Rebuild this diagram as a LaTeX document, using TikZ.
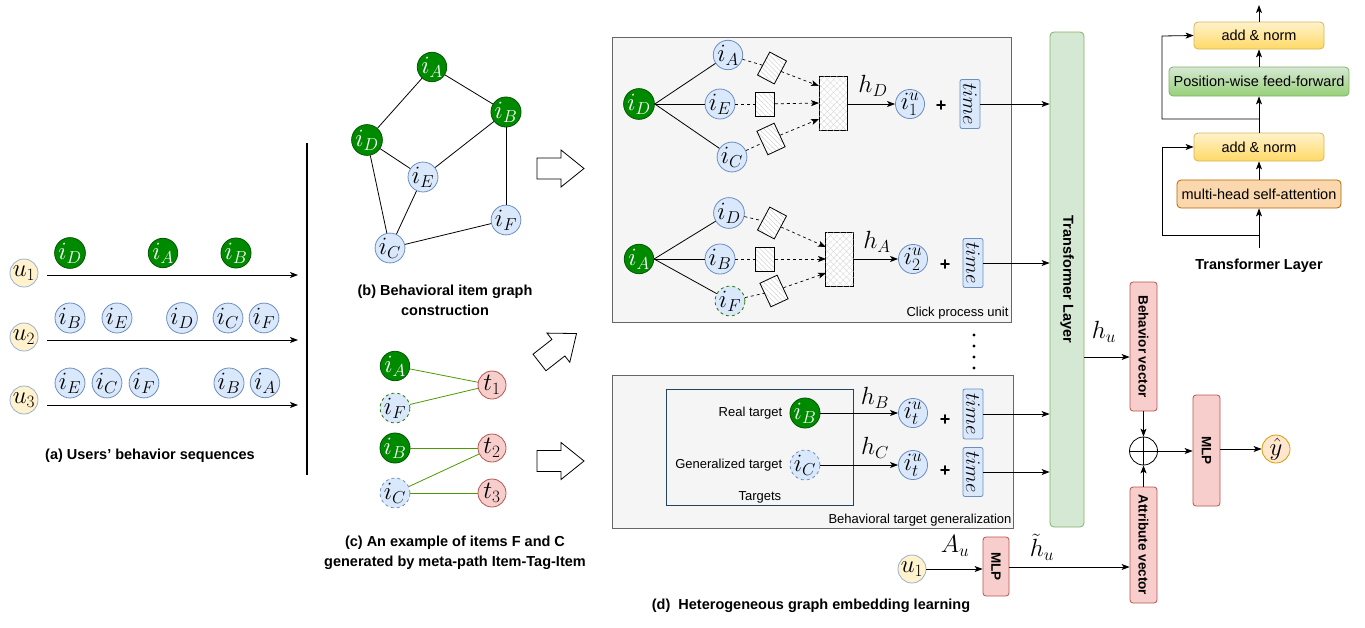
\documentclass[tikz,border=0pt]{standalone}
\usepackage{fontspec}
\setmainfont{Liberation Sans}
\usetikzlibrary{arrows.meta,patterns.meta,calc}
\definecolor{dgreen}{HTML}{008A00}
\definecolor{dgreenb}{HTML}{005700}
\definecolor{lblue}{HTML}{DAE8FC}
\definecolor{bblue}{HTML}{6C8EBF}
\definecolor{lred}{HTML}{F8CECC}
\definecolor{bred}{HTML}{B85450}
\definecolor{lyel}{HTML}{FFF2CC}
\definecolor{byel}{HTML}{D6B656}
\definecolor{dyel}{HTML}{FFD966}
\definecolor{lgrn}{HTML}{D5E8D4}
\definecolor{bgrn}{HTML}{82B366}
\definecolor{mgrn}{HTML}{97D077}
\definecolor{lorg}{HTML}{FAD7AC}
\definecolor{borg}{HTML}{B46504}
\definecolor{yorg}{HTML}{FFE6CC}
\definecolor{yorgb}{HTML}{D79B00}
\definecolor{edgegreen}{HTML}{4D9900}
\definecolor{dashgreen}{HTML}{2D7600}
\definecolor{boxgray}{HTML}{F5F5F5}
\definecolor{boxline}{HTML}{666666}
\definecolor{tgtline}{HTML}{23445D}
\newcommand{\mymath}{\fontsize{23}{25}\selectfont}
\newcommand{\mytime}{\fontsize{20.5}{22}\selectfont}
\newcommand{\mylbl}{\fontsize{13}{15}\selectfont}
\newcommand{\mybold}{\fontsize{14.5}{17}\selectfont\bfseries}
\begin{document}
\begin{tikzpicture}[x=1pt,y=-1pt,
  >={Stealth[length=8pt,width=6pt,inset=2pt]},
  line width=0.8pt,
  itemG/.style={circle,fill=dgreen,draw=dgreenb,text=white,minimum size=28pt,inner sep=0pt,font=\mymath},
  itemB/.style={circle,fill=lblue,draw=bblue,minimum size=28pt,inner sep=0pt,font=\mymath},
  itemBd/.style={itemB,dashed},
  itemFd/.style={itemB,draw=dashgreen,dashed},
  unode/.style={circle,fill=lyel,draw=bblue!70,minimum size=28pt,inner sep=0pt,font=\mymath},
  tnode/.style={circle,fill=lred,draw=bred,minimum size=28pt,inner sep=0pt,font=\mymath},
  ynode/.style={circle,fill=yorg,draw=yorgb,minimum size=28pt,inner sep=0pt,font=\mymath},
  gedge/.style={draw=edgegreen,line width=0.8pt},
  hatchbox/.style={draw,line width=0.8pt,minimum width=19pt,minimum height=26pt,inner sep=0pt,preaction={fill=white},pattern={Lines[angle=-45,distance=3.5pt,line width=0.35pt]},pattern color=gray!45},
  crossbox/.style={draw,line width=0.8pt,minimum width=28pt,minimum height=54pt,inner sep=0pt,preaction={fill=white},pattern={Lines[angle=45,distance=4.5pt,line width=0.3pt]},pattern color=gray!35,postaction={pattern={Lines[angle=-45,distance=4.5pt,line width=0.3pt]},pattern color=gray!35}},
  timebox/.style={draw=bblue,fill=lblue,rounded corners=2pt,rotate=-90,minimum width=49pt,minimum height=20pt,inner sep=0pt,font=\mytime},
  panel/.style={draw=boxline,fill=boxgray,line width=0.8pt},
  redbox/.style={draw=bred,fill=lred,rounded corners=3pt,rotate=-90,inner sep=0pt,font=\fontsize{13.5}{15}\selectfont\bfseries},
  tbox/.style={rounded corners=4pt,line width=0.8pt,minimum height=28pt,inner sep=0pt,font=\fontsize{14.5}{16}\selectfont},
  plus/.style={font=\fontsize{18}{20}\selectfont\bfseries},
  dashln/.style={dashed,line width=0.7pt},
  blockarrow/.style={draw,line width=0.8pt,fill=white}
]
\useasboundingbox (0,0) rectangle (1365,627);

% ================= (a) =================
\node[unode] (u1) at (24,273) {$u_1$};
\node[unode] (u2) at (24,337) {$u_2$};
\node[unode] (u3) at (24,400) {$u_3$};
\coordinate (a1s) at (47,275); \coordinate (a1e) at (298,275);
\coordinate (a2s) at (47,340); \coordinate (a2e) at (298,340);
\coordinate (a3s) at (47,405); \coordinate (a3e) at (298,405);
\draw[->] (a1s) -- (a1e);
\draw[->] (a2s) -- (a2e);
\draw[->] (a3s) -- (a3e);
\node[itemG] (s1d) at (70,253) {$i_D$};
\node[itemG] (s1a) at (163,253) {$i_A$};
\node[itemG] (s1b) at (236,253) {$i_B$};
\node[itemB] (s2b) at (70,318) {$i_B$};
\node[itemB] (s2e) at (117,318) {$i_E$};
\node[itemB] (s2d) at (182,318) {$i_D$};
\node[itemB] (s2c) at (228,318) {$i_C$};
\node[itemB] (s2f) at (264,318) {$i_F$};
\node[itemB] (s3e) at (70,383) {$i_E$};
\node[itemB] (s3c) at (107,383) {$i_C$};
\node[itemB] (s3f) at (144,383) {$i_F$};
\node[itemB] (s3b) at (229,383) {$i_B$};
\node[itemB] (s3a) at (265,383) {$i_A$};
\node[font=\mybold] (la) at (150,456) {(a) Users' behavior sequences};
\coordinate (vt) at (307,143); \coordinate (vb) at (307,475);
\draw[line width=1.6pt] (vt) -- (vb);

% ================= (b) =================
\node[itemG] (gA) at (432,67) {$i_A$};
\node[itemG] (gB) at (506,112) {$i_B$};
\node[itemG] (gD) at (367,140) {$i_D$};
\node[itemB] (gE) at (423,177) {$i_E$};
\node[itemB] (gF) at (506,220) {$i_F$};
\node[itemB] (gC) at (390,248) {$i_C$};
\draw (gA) -- (gD);
\draw (gA) -- (gB);
\draw (gD) -- (gE);
\draw (gB) -- (gE);
\draw (gD) -- (gC);
\draw (gE) -- (gC);
\draw (gB) -- (gF);
\draw (gF) -- (gC);
\node[font=\mybold,align=center] (lb) at (445,300) {(b) Behavioral item graph\\[3pt]construction};

% ================= (c) =================
\node[itemG] (cA) at (395,366) {$i_A$};
\node[itemFd] (cF) at (395,408) {$i_F$};
\node[itemG] (cB) at (395,448) {$i_B$};
\node[itemBd] (cC) at (395,493) {$i_C$};
\node[tnode] (t1) at (492,385) {$t_1$};
\node[tnode] (t2) at (492,448) {$t_2$};
\node[tnode] (t3) at (492,493) {$t_3$};
\draw[gedge] (cA) -- (t1);
\draw[gedge] (cF) -- (t1);
\draw[gedge] (cB) -- (t2);
\draw[gedge] (cC) -- (t2);
\draw[gedge] (cC) -- (t3);
\node[font=\mybold,align=center] (lc) at (455,553) {(c) An example of items F and C\\[3pt]generated by meta-path Item-Tag-Item};

% block arrows
\draw[blockarrow,shift={(537,168.5)}] (0,-10.5) -- (24,-10.5) -- (24,-18.5) -- (47,0) -- (24,18.5) -- (24,10.5) -- (0,10.5) -- cycle;
\draw[blockarrow,shift={(537,461)}] (0,-10.5) -- (24,-10.5) -- (24,-18.5) -- (47,0) -- (24,18.5) -- (24,10.5) -- (0,10.5) -- cycle;
\draw[blockarrow,shift={(558,348)},rotate=38] (-23.5,-10.5) -- (0.5,-10.5) -- (0.5,-18.5) -- (23.5,0) -- (0.5,18.5) -- (0.5,10.5) -- (-23.5,10.5) -- cycle;

% ================= (d) =================
\node[panel,minimum width=399pt,minimum height=285pt,anchor=north west,inner sep=0pt] (P1) at (612,37) {};
\node[anchor=south east,font=\mylbl,inner sep=3pt] (P1l) at (P1.south east) {Click process unit};
\node[panel,minimum width=401pt,minimum height=153pt,anchor=north west,inner sep=0pt] (P2) at (612,375) {};
\node[anchor=south east,font=\mylbl,inner sep=2pt] (P2l) at (P2.south east) {Behavioral target generalization};

% unit 1
\node[itemG] (dD) at (639,104) {$i_D$};
\node[itemB] (dA1) at (728,55) {$i_A$};
\node[itemB] (dE1) at (720,104) {$i_E$};
\node[itemB] (dC1) at (732,157) {$i_C$};
\draw (dD.east) -- (dA1);
\draw (dD.east) -- (dE1);
\draw (dD.east) -- (dC1);
\node[crossbox] (H1) at (833,103) {};
\node[hatchbox,rotate=-28] (r11) at (772,68) {};
\node[hatchbox,minimum height=24pt] (r12) at (765,104) {};
\node[hatchbox,rotate=25] (r13) at (771,139) {};
\coordinate (H1a) at (819,86); \coordinate (H1b) at (819,103); \coordinate (H1c) at (819,119);
\draw[dashln] (dA1) -- (r11); \draw[dashln,->] (r11) -- (H1a);
\draw[dashln] (dE1) -- (r12); \draw[dashln,->] (r12) -- (H1b);
\draw[dashln] (dC1) -- (r13); \draw[dashln,->] (r13) -- (H1c);
\node[itemB] (o1) at (910,104) {$i^u_1$};
\draw[->] (H1.east |- o1) -- (o1);
\node[font=\mymath] (hD) at (873,86) {$h_D$};
\node[plus] (p1) at (941,106) {+};
\node[timebox] (tm1) at (970,104) {$time$};

% unit 2
\node[itemG] (dA) at (639,259) {$i_A$};
\node[itemB] (dD2) at (729,213) {$i_D$};
\node[itemB] (dB2) at (720,259) {$i_B$};
\node[itemFd] (dF2) at (730,301) {$i_F$};
\draw (dA.east) -- (dD2);
\draw (dA.east) -- (dB2);
\draw (dA.east) -- (dF2);
\node[crossbox] (H2) at (839.5,259) {};
\node[hatchbox,rotate=-28] (r21) at (772,223) {};
\node[hatchbox,minimum height=24pt] (r22) at (765,259) {};
\node[hatchbox,rotate=25] (r23) at (774,291) {};
\coordinate (H2a) at (826,247); \coordinate (H2b) at (826,259); \coordinate (H2c) at (826,273);
\draw[dashln] (dD2) -- (r21); \draw[dashln,->] (r21) -- (H2a);
\draw[dashln] (dB2) -- (r22); \draw[dashln,->] (r22) -- (H2b);
\draw[dashln] (dF2) -- (r23); \draw[dashln,->] (r23) -- (H2c);
\node[itemB] (o2) at (913,259) {$i^u_2$};
\draw[->] (H2.east |- o2) -- (o2);
\node[font=\mymath] (hA) at (877,242) {$h_A$};
\node[plus] (p2) at (945,265) {+};
\node[timebox] (tm2) at (973,263) {$time$};

% dots
\foreach \yy in {335,346,357,368} \fill (974,\yy) circle (1.6pt);

% targets
\node[draw=tgtline,line width=0.8pt,minimum width=187pt,minimum height=116pt,anchor=north west,inner sep=0pt] (TG) at (666,389) {};
\node[font=\mylbl,anchor=south,inner sep=2pt] (TGl) at (TG.south) {Targets};
\node[itemG] (tB) at (805,413) {$i_B$};
\node[itemBd] (tC) at (805,465) {$i_C$};
\node[font=\mylbl,anchor=east] (rt) at (786,413) {Real target};
\node[font=\mylbl,anchor=east] (gt) at (786,465) {Generalized target};
\node[itemB] (o3) at (913,413) {$i^u_t$};
\node[itemB] (o4) at (913,465) {$i^u_t$};
\draw[->] (tB) -- (o3);
\draw[->] (tC) -- (o4);
\node[font=\mymath] (hB) at (875,398) {$h_B$};
\node[font=\mymath] (hC) at (875,448) {$h_C$};
\node[plus] (p3) at (945,420) {+};
\node[plus] (p4) at (945,471) {+};
\node[timebox,minimum width=50pt] (tm3) at (973,414) {$time$};
\node[timebox] (tm4) at (973,472) {$time$};

% transformer column
\node[draw=bgrn,fill=lgrn,rounded corners=4pt,line width=0.8pt,minimum width=34pt,minimum height=495pt,inner sep=0pt] (TL) at (1067,279.5) {};
\node[rotate=-90,font=\fontsize{14.5}{16}\selectfont\bfseries] (TLl) at (TL.center) {Transformer Layer};
\draw[->] (tm1) -- (tm1 -| TL.west);
\draw[->] (tm2) -- (tm2 -| TL.west);
\draw[->] (tm3) -- (tm3 -| TL.west);
\draw[->] (tm4) -- (tm4 -| TL.west);

% right side (rotated boxes: .south is the visual left side, .north the visual right side)
\node[redbox,minimum width=129pt,minimum height=27pt] (BV) at (1143.5,346.5) {Behavior vector};
\node[redbox,minimum width=116pt,minimum height=27pt] (AV) at (1143.5,545) {Attribute vector};
\node[circle,draw,line width=0.8pt,minimum size=28pt,inner sep=0pt,
  path picture={\draw[line width=0.8pt] (path picture bounding box.north) -- (path picture bounding box.south) (path picture bounding box.west) -- (path picture bounding box.east);}] (OP) at (1143.5,451) {};
\coordinate (hus) at (1084,357);
\draw[->] (hus) -- (hus -| BV.south);
\node[font=\mymath] (hu) at (1104,332) {$h_u$};
\draw[->] (BV) -- (OP);
\draw[->] (AV) -- (OP);
\node[redbox,minimum width=111pt,minimum height=27pt] (MLP) at (1206.5,450.5) {MLP};
\draw[->] (OP) -- (OP -| MLP.south);
\node[ynode] (yh) at (1276,449) {$\hat{y}$};
\draw[->] (MLP.north |- yh) -- (yh);
\node[unode] (ub) at (912,569) {$u_1$};
\node[redbox,minimum width=59pt,minimum height=26pt] (MLP2) at (996,566.5) {MLP};
\draw[->] (ub) -- (ub -| MLP2.south);
\node[font=\mymath] (Au) at (955,546) {$A_u$};
\coordinate (hts) at (1009,567);
\draw[->] (hts) -- (hts -| AV.south);
\node[font=\mymath] (ht) at (1042,547) {$\tilde{h}_u$};
\node[font=\mybold] (ld) at (811,606) {(d)\ \ Heterogeneous graph embedding learning};

% transformer layer detail
\node[tbox,draw=byel,top color=lyel,bottom color=dyel,minimum width=130pt,minimum height=27pt] (AN2) at (1259,35.5) {add \& norm};
\node[tbox,draw=bgrn,top color=lgrn,bottom color=mgrn,minimum width=180pt,minimum height=29pt] (FF) at (1259,81.5) {Position-wise feed-forward};
\node[tbox,draw=byel,top color=lyel,bottom color=dyel,minimum width=130pt,minimum height=28pt] (AN1) at (1259,147) {add \& norm};
\node[tbox,draw=borg,fill=lorg,minimum width=164pt,minimum height=28pt] (MH) at (1259,194) {multi-head self-attention};
\coordinate (tin) at (1259,248);
\coordinate (tout) at (1259,5);
\coordinate (b1) at (1259,235); \coordinate (b1l) at (1162,235); \coordinate (b1t) at (1162,147);
\coordinate (b2) at (1259,119); \coordinate (b2l) at (1162,119); \coordinate (b2t) at (1162,36);
\draw[->] (tin) -- (MH);
\draw[->] (MH) -- (AN1);
\draw[->] (AN1) -- (FF);
\draw[->] (FF) -- (AN2);
\draw[->] (AN2) -- (tout);
\draw[->] (b1) -- (b1l) -- (b1t) -- (AN1.west);
\draw[->] (b2) -- (b2l) -- (b2t) -- (AN2.west);
\node[font=\fontsize{14.5}{16}\selectfont\bfseries] (TLd) at (1259,266) {Transformer Layer};
\end{tikzpicture}
\end{document}
